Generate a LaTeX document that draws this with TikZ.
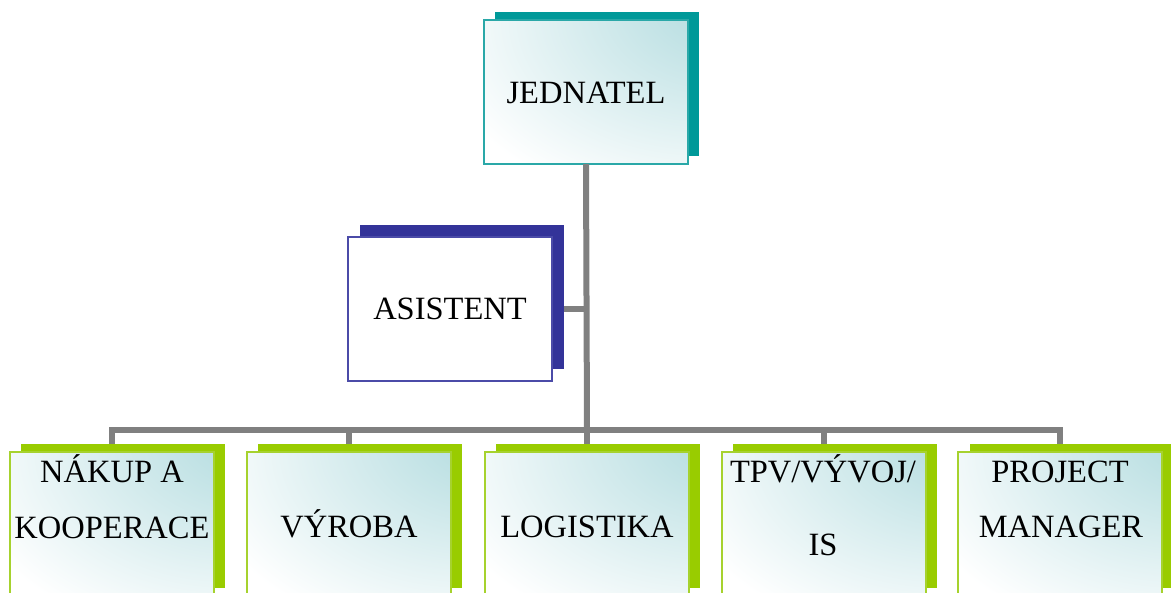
\documentclass[tikz,border=0pt]{standalone}
\usepackage{fontspec}
\setmainfont{Liberation Serif}
\definecolor{gline}{HTML}{808080}
\definecolor{tealsh}{HTML}{009999}
\definecolor{tealbd}{HTML}{2AA8A8}
\definecolor{navysh}{HTML}{333399}
\definecolor{navybd}{HTML}{4B4BA8}
\definecolor{greensh}{HTML}{99CC00}
\definecolor{greenbd}{HTML}{A6D22E}
\definecolor{glow}{HTML}{BCE0E3}
\pgfdeclareradialshading{cornerglow}{\pgfpoint{40bp}{36bp}}{color(0bp)=(glow); color(14bp)=(glow); color(62bp)=(white); color(160bp)=(white)}
\tikzset{
  conn/.style={draw=gline, line width=6pt, line join=miter},
  shadowbox/.style={fill=#1, draw=none, inner sep=0pt, outer sep=0pt, anchor=north west, minimum width=204pt, minimum height=144pt},
  frontbox/.style={draw=#1, line width=1.6pt, shading=cornerglow, inner sep=0pt, outer sep=0pt, anchor=north west, minimum width=204pt, minimum height=144pt},
  plainbox/.style={draw=#1, line width=1.6pt, fill=white, inner sep=0pt, outer sep=0pt, anchor=north west, minimum width=204pt, minimum height=144pt},
  lbl/.style={anchor=base, inner sep=0pt, font=\fontsize{32.5}{36}\selectfont}
}
\begin{document}
\begin{tikzpicture}[x=1pt, y=-1pt]
\useasboundingbox (0,0) rectangle (1171,593);
\clip (0,0) rectangle (1171,593);
\coordinate (hub) at (587,430);
% shadows
\node[shadowbox=tealsh] (jeds) at (495,12) {};
\node[shadowbox=navysh] (ass) at (360,225) {};
\node[shadowbox=greensh] (b1s) at (21,444) {};
\node[shadowbox=greensh] (b2s) at (258,444) {};
\node[shadowbox=greensh] (b3s) at (496,444) {};
\node[shadowbox=greensh] (b4s) at (733,444) {};
\node[shadowbox=greensh] (b5s) at (970,444) {};
% front boxes
\node[frontbox=tealbd] (jed) at (484,20) {};
\node[plainbox=navybd] (as) at (348,237) {};
\node[frontbox=greenbd] (b1) at (10,452) {};
\node[frontbox=greenbd] (b2) at (247,452) {};
\node[frontbox=greenbd] (b3) at (485,452) {};
\node[frontbox=greenbd] (b4) at (722,452) {};
\node[frontbox=greenbd] (b5) at (958,452) {};
% connectors
\draw[conn] (jed.south) -- (hub);
\draw[conn] (ass.east |- as.east) -- (as.east -| hub);
\draw[conn] (b1s.north -| b1.north) -- (b1.north |- hub) -- (b5.north |- hub) -- (b5s.north -| b5.north);
\draw[conn] (b2.north |- hub) -- (b2s.north -| b2.north);
\draw[conn] (b3.north |- hub) -- (b3s.north -| b3.north);
\draw[conn] (b4.north |- hub) -- (b4s.north -| b4.north);
% labels
\node[lbl] (tjed) at (586,104) {JEDNATEL};
\node[lbl] (tas) at (450,320) {ASISTENT};
\node[lbl] (t1a) at (112,483) {NÁKUP A};
\node[lbl] (t1b) at (112,539) {KOOPERACE};
\node[lbl] (t2) at (349,537) {VÝROBA};
\node[lbl] (t3) at (587,537) {LOGISTIKA};
\node[lbl] (t4a) at (823,483) {TPV/VÝVOJ/};
\node[lbl] (t4b) at (823,555) {IS};
\node[lbl] (t5a) at (1060,483) {PROJECT};
\node[lbl] (t5b) at (1061,538) {MANAGER};
\end{tikzpicture}
\end{document}
